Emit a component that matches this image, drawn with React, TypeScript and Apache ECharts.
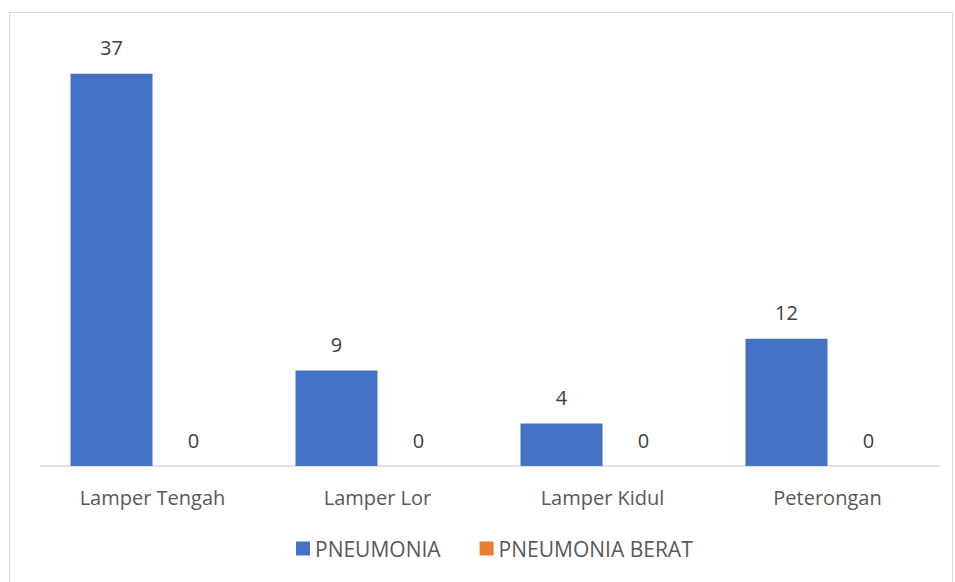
import React, { useEffect, useRef } from "react";
import * as echarts from "echarts";

const categories = ["Lamper Tengah", "Lamper Lor", "Lamper Kidul", "Peterongan"];
const pneumonia = [37, 9, 4, 12];
const pneumoniaBerat = [0, 0, 0, 0];
const seriesNames = ["PNEUMONIA", "PNEUMONIA BERAT"];

const FONT = "'Open Sans', sans-serif";
const TXT = "#595959";

export default function App() {
  const ref = useRef<HTMLDivElement>(null);
  useEffect(() => {
    const chart = echarts.init(ref.current!, null, { renderer: "svg" });
    const label = {
      show: true,
      position: "top" as const,
      distance: 16,
      color: "#404040",
      fontSize: 20,
      fontFamily: FONT,
    };
    chart.setOption({
      animation: false,
      backgroundColor: "#fff",
      grid: { left: 30, right: 12, top: 29, bottom: 117 },
      legend: {
        left: 281,
        top: 520,
        itemWidth: 14,
        itemHeight: 14,
        itemGap: 39,
        icon: "rect",
        textStyle: { color: TXT, fontSize: 21, fontFamily: FONT },
        data: seriesNames,
      },
      xAxis: {
        type: "category",
        data: categories,
        axisLine: { lineStyle: { color: "#d9d9d9", width: 1.5 } },
        axisTick: { show: false },
        axisLabel: { color: TXT, fontSize: 20, fontFamily: FONT, margin: 21 },
      },
      yAxis: {
        type: "value",
        min: 0,
        max: 40,
        show: false,
        splitLine: { show: false },
      },
      series: [
        {
          name: seriesNames[0],
          type: "bar",
          data: pneumonia,
          barWidth: 82,
          barGap: "0%",
          itemStyle: { color: "#4472C4" },
          label,
        },
        {
          name: seriesNames[1],
          type: "bar",
          data: pneumoniaBerat,
          barWidth: 82,
          itemStyle: { color: "#ED7D31" },
          label,
        },
      ],
    });
    return () => chart.dispose();
  }, []);
  return (
    <div
      style={{
        width: 944,
        height: 572,
        border: "1px solid #d9d9d9",
        position: "absolute",
        left: 9,
        top: 12,
        boxSizing: "border-box",
      }}
    >
      <div ref={ref} style={{ width: "100%", height: "100%" }} />
    </div>
  );
}
